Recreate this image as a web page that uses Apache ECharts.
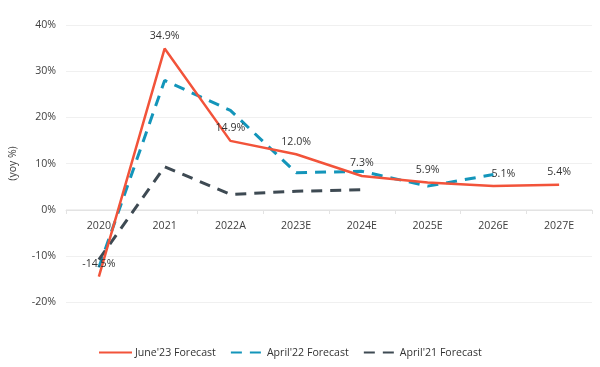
<!DOCTYPE html>
<html><head><meta charset="utf-8">
<script src="https://cdn.jsdelivr.net/npm/echarts@6/dist/echarts.min.js"></script>
<style>html,body{margin:0;padding:0;background:#fff}#c{width:600px;height:367px}</style>
</head><body><div id="c"></div>
<script>
var categories = ['2020','2021','2022A','2023E','2024E','2025E','2026E','2027E'];
var june23 = [-14.5, 34.9, 14.9, 12.0, 7.3, 5.9, 5.1, 5.4];
var april22 = [-12.5, 28.0, 21.5, 8.0, 8.3, 5.1, 7.6, null];
var april21 = [-10.8, 9.3, 3.3, 4.0, 4.3, null, null, null];
var seriesNames = ["June'23 Forecast", "April'22 Forecast", "April'21 Forecast"];
var yTicks = [-20, -10, 0, 10, 20, 30, 40];

var FONT = '"Open Sans", "Noto Sans", sans-serif';
var FS = 10.6;
var chart = echarts.init(document.getElementById('c'), null, {renderer:'canvas'});
var juneData = june23.map(function(v, i){
  var item = {value: v};
  if (categories[i] === '2026E') item.label = {offset: [10, 0]};
  return item;
});
chart.setOption({
  animation: false,
  textStyle: {fontFamily: FONT},
  grid: {left: 62, right: 8, top: 25, bottom: 65},
  legend: {
    bottom: 4, left: 93, itemWidth: 33, itemHeight: 12, itemGap: 14,
    itemStyle: {opacity: 0},
    textStyle: {fontSize: FS, color: '#333', fontFamily: FONT, padding: [0, 0, 0, -2]},
    data: seriesNames
  },
  xAxis: {
    type: 'category', data: categories, boundaryGap: true,
    offset: -92,
    axisLine: {onZero: false, lineStyle: {color: '#e3e3e3'}},
    axisTick: {show: true, alignWithLabel: false, length: 4, lineStyle: {color: '#e3e3e3'}},
    axisLabel: {color: '#404040', fontSize: FS, margin: 10, fontFamily: FONT}
  },
  yAxis: {
    type: 'value', min: yTicks[0], max: yTicks[yTicks.length-1], interval: 10,
    name: '(yoy %)', nameLocation: 'middle', nameGap: 47, nameRotate: 90,
    nameTextStyle: {color: '#404040', fontSize: 10.5, fontFamily: FONT},
    axisLine: {show: false}, axisTick: {show: false},
    splitLine: {lineStyle: {color: '#f0f0f0'}},
    axisLabel: {color: '#404040', fontSize: FS, margin: 10, formatter: '{value}%', fontFamily: FONT}
  },
  series: [
    {name: seriesNames[0], type: 'line', data: juneData, symbol: 'circle', symbolSize: 0.01, showSymbol: true, z: 3,
     itemStyle: {color: '#F2533A'}, lineStyle: {color: '#F2533A', width: 2.5},
     label: {show: true, position: 'top', distance: 7, formatter: function(p){return p.value.toFixed(1)+'%';},
             color: '#333', fontSize: FS, fontFamily: FONT}},
    {name: seriesNames[1], type: 'line', data: april22, symbol: 'none', z: 2,
     itemStyle: {color: '#1395BA'}, lineStyle: {color: '#1395BA', width: 3, type: [11, 8]}},
    {name: seriesNames[2], type: 'line', data: april21, symbol: 'none', z: 2,
     itemStyle: {color: '#3E4A53'}, lineStyle: {color: '#3E4A53', width: 3, type: [11, 8]}}
  ]
});
</script></body></html>
